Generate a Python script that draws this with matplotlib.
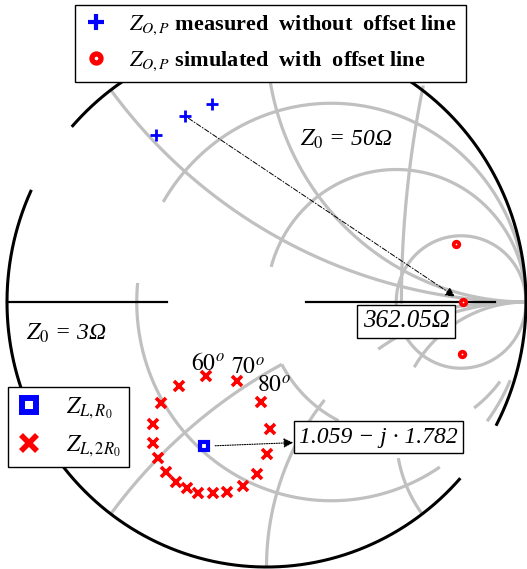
import numpy as np
import matplotlib.pyplot as plt
from matplotlib.lines import Line2D

plt.rcParams['font.family'] = ['Liberation Serif', 'DejaVu Serif']
plt.rcParams['mathtext.fontset'] = 'stix'

# measured output impedance without offset line (reflection coeff., 50 ohm chart)
meas_re = [-0.425, -0.314, -0.210]
meas_im = [0.630, 0.702, 0.747]

# simulated output impedance with offset line (reflection coeff., 50 ohm chart)
sim_re = [0.730, 0.753]
sim_im = [0.219, -0.196]
z_real_axis = 362.05   # ohm, simulated point on the real axis
z0_top = 50.0

# load impedance for R0 (ohm) in the 3 ohm chart
z_load = 1.059 - 1.782j
z0_bottom = 3.0

# load impedance sweep for 2*R0 (reflection coeff., 3 ohm chart)
sweep_re = [-0.233, -0.114, -0.021, 0.013, 0.002, -0.037, -0.091, -0.152, -0.206,
            -0.264, -0.306, -0.349, -0.387, -0.418, -0.437, -0.437, -0.407, -0.337]
sweep_im = [-0.279, -0.298, -0.377, -0.479, -0.574, -0.649, -0.694, -0.717, -0.721,
            -0.721, -0.702, -0.679, -0.642, -0.589, -0.532, -0.460, -0.381, -0.317]
angle_labels = ['60', '70', '80']

GREY = '#c0c0c0'
INF = np.inf


def gamma(z, z0=1.0):
    zn = np.asarray(z) / z0
    return (zn - 1) / (zn + 1)


def r_circle(ax, r, x0, x1):
    # constant resistance r, reactance running from x0 to x1
    u = np.linspace(np.arctan(x0), np.arctan(x1), 400)
    g = gamma(r + 1j * np.tan(u))
    ax.plot(g.real, g.imag, color=GREY, lw=2.3, zorder=1, solid_capstyle='butt')


def x_arc(ax, x, r0, r1):
    # constant reactance x, resistance running from r0 to r1
    u = np.linspace(np.arctan(r0), np.arctan(r1), 400)
    g = gamma(np.tan(u) + 1j * x)
    ax.plot(g.real, g.imag, color=GREY, lw=2.3, zorder=1, solid_capstyle='butt')


fig = plt.figure(figsize=(5.27, 5.69), dpi=100)
ax = fig.add_axes([0, 0, 1, 1])
ax.set_xlim(-1.027, 1.0039)
ax.set_ylim(-1.0075, 1.1396)
ax.axis('off')

# Z0 = 50 ohm part of the grid (upper half)
r_circle(ax, 1 / 3, 0.36, INF)
r_circle(ax, 1.0, 0.27, INF)
r_circle(ax, 3.0, -INF, INF)
x_arc(ax, 0.5, 0, INF)
x_arc(ax, 1.0, 0, INF)
x_arc(ax, -0.5, 3.0, INF)
x_arc(ax, -1.0, 2.2, INF)
x_arc(ax, -2.0, 2.5, INF)
t = np.radians(np.linspace(168.3, 180, 100))
ax.plot(4.52 + 4.0 * np.cos(t), 4.0 * np.sin(t), color=GREY, lw=2.3, zorder=1)

# Z0 = 3 ohm part of the grid (lower half)
r_circle(ax, 1 / 3, -2.5, 0.064)
r_circle(ax, 1.0, -1.24, -0.5)
r_circle(ax, 1 / 3, -6.5, -4.0)
r_circle(ax, 1.0, -6.0, -4.0)
x_arc(ax, -0.5, 0, 1.0)
x_arc(ax, -1.0, 0, 1.1)
x_arc(ax, -2.0, 0, 0.67)

# outer circle and real axis
for a0, a1 in [(-27.5, 138.3), (155.3, 318.0)]:
    th = np.radians(np.linspace(a0, a1, 300))
    ax.plot(np.cos(th), np.sin(th), color='black', lw=2.2, zorder=2)
ax.plot([-1, -0.385], [0, 0], color='black', lw=1.6, zorder=2)
ax.plot([0.152, 0.88], [0, 0], color='black', lw=1.6, zorder=2)

# markers
ax.plot(meas_re, meas_im, '+', color='blue', ms=8, mew=2, zorder=4)
g_axis = gamma(z_real_axis, z0_top)
sim_x = sim_re[:1] + [g_axis] + sim_re[1:]
sim_y = sim_im[:1] + [0.0] + sim_im[1:]
ax.plot(sim_x, sim_y, 'o', ms=4, mfc='white', mec='red', mew=2.7, zorder=4)
ax.plot(sweep_re, sweep_im, 'x', color='red', ms=7.5, mew=2.6, zorder=4)
g_load = gamma(z_load, z0_bottom)
ax.plot(g_load.real, g_load.imag, 's', ms=6, mfc='white', mec='blue', mew=3, zorder=5)

# arrows and value boxes
ax.annotate('', xy=(g_axis, 0), xytext=(meas_re[1], meas_im[1]),
            arrowprops=dict(arrowstyle='-|>', color='black', lw=0.7, linestyle=(0, (5, 2, 1, 2)),
                            mutation_scale=14, shrinkA=3, shrinkB=7), zorder=3)
box = dict(boxstyle='square,pad=0.22', fc='white', ec='black', lw=1.0)
ax.text(0.539, -0.072, '%.2fΩ' % z_real_axis, fontsize=18, fontstyle='italic',
        ha='center', va='center', bbox=box, zorder=6)
ax.annotate('%.3f − j · %.3f' % (z_load.real, -z_load.imag), xy=(g_load.real, g_load.imag),
            xytext=(0.431, -0.51), fontsize=17, fontstyle='italic', ha='center', va='center',
            bbox=box, zorder=6,
            arrowprops=dict(arrowstyle='<|-', color='black', lw=0.8, linestyle=(0, (1, 1.2)),
                            mutation_scale=14, relpos=(0, 0.25), shrinkA=0, shrinkB=7))

# chart labels
ax.text(0.129, 0.615, r'$Z_0$ = 50Ω', fontsize=17, fontstyle='italic', ha='left', va='center')
ax.text(-0.925, -0.12, r'$Z_0$ = 3Ω', fontsize=17, fontstyle='italic', ha='left', va='center')
for lab, (lx, ly) in zip(angle_labels, [(-0.29, -0.235), (-0.135, -0.255), (-0.035, -0.32)]):
    ax.text(lx, ly, r'$\mathit{%s}^{o}$' % lab, fontsize=17, ha='left', va='center')

# legends
top_handles = [Line2D([], [], ls='none', marker='+', color='blue', ms=11, mew=3),
               Line2D([], [], ls='none', marker='o', ms=6.5, mfc='white', mec='red', mew=3.8)]
top_labels = [r'$Z_{O,P}$ measured  without  offset line', r'$Z_{O,P}$ simulated  with  offset line']
leg1 = ax.legend(top_handles, top_labels, loc='upper left', bbox_to_anchor=(75 / 527, 1 - 5 / 569),
                 bbox_transform=fig.transFigure, borderaxespad=0, frameon=True, fancybox=False,
                 edgecolor='black', framealpha=1, prop=dict(weight='bold', size=16),
                 handlelength=1.1, handletextpad=0.95, borderpad=0.4, labelspacing=0.55)
leg1.get_frame().set_linewidth(1.0)
leg1.set_zorder(7)
ax.add_artist(leg1)

bot_handles = [Line2D([], [], ls='none', marker='s', ms=10, mfc='white', mec='blue', mew=4.3),
               Line2D([], [], ls='none', marker='x', color='red', ms=11, mew=4)]
bot_labels = [r'$Z_{L,R_0}$', r'$Z_{L,2R_0}$']
leg2 = ax.legend(bot_handles, bot_labels, loc='upper left', bbox_to_anchor=(8 / 527, 1 - 387 / 569),
                 bbox_transform=fig.transFigure, borderaxespad=0, frameon=True, fancybox=False,
                 edgecolor='black', framealpha=1, prop=dict(size=17),
                 handlelength=1.1, handletextpad=1.0, borderpad=0.35, labelspacing=0.55)
leg2.get_frame().set_linewidth(1.0)
leg2.set_zorder(7)

fig.savefig('out.png', dpi=100)
